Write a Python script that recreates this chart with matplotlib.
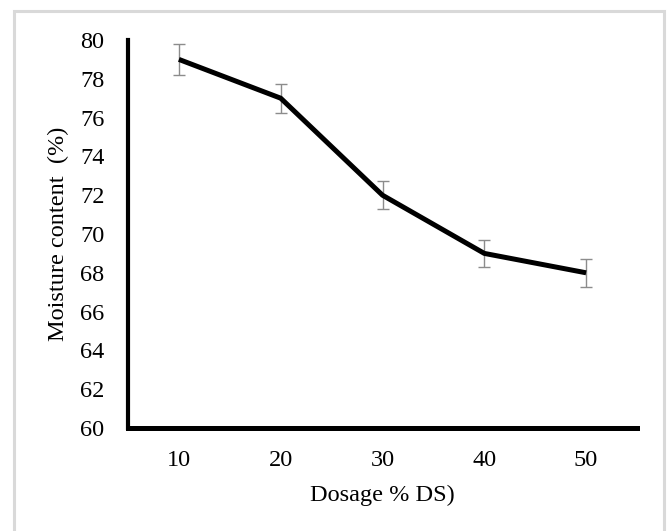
import matplotlib
matplotlib.use("Agg")
import matplotlib.pyplot as plt
from matplotlib.patches import Rectangle

dosage = [10, 20, 30, 40, 50]
moisture = [79, 77, 72, 69, 68]
errors = [0.78, 0.75, 0.72, 0.68, 0.72]
y_ticks = [60, 62, 64, 66, 68, 70, 72, 74, 76, 78, 80]

plt.rcParams['font.family'] = ['Liberation Serif', 'DejaVu Serif']

W, H = 668, 531
fig = plt.figure(figsize=(W / 100, H / 100), dpi=100)
fig.patch.set_facecolor('white')

# outer light gray frame
fig.patches.append(Rectangle((14 / W, -0.05), (664 - 14) / W, 1.05 - 11 / H,
                             transform=fig.transFigure, fill=False,
                             edgecolor='#d9d9d9', linewidth=2.2))

ax = fig.add_axes([128 / W, 1 - 428 / H, (637 - 128) / W, (428 - 40) / H])
ax.errorbar(dosage, moisture, yerr=errors, fmt='none', ecolor='#8c8c8c',
            elinewidth=1.0, capsize=4.5, capthick=1.0, zorder=2)
ax.plot(dosage, moisture, color='black', linewidth=3.6, zorder=3,
        solid_capstyle='butt')

ax.set_xlim(5, 55)
ax.set_ylim(60, 80)
ax.set_xticks(dosage)
ax.set_xticklabels([str(d) for d in dosage])
ax.set_yticks(y_ticks)
ax.tick_params(axis='both', length=0, labelsize=17.5)
ax.tick_params(axis='y', pad=17)
ax.tick_params(axis='x', pad=16)

for s in ['top', 'right']:
    ax.spines[s].set_visible(False)
ax.spines['left'].set_linewidth(3.0)
ax.spines['bottom'].set_linewidth(3.6)

ax.set_xlabel('Dosage % DS)', fontsize=17.5, labelpad=10)
ax.set_ylabel('Moisture content  (%)', fontsize=17.5, labelpad=8)

fig.savefig('out.png', dpi=100, facecolor='white')
